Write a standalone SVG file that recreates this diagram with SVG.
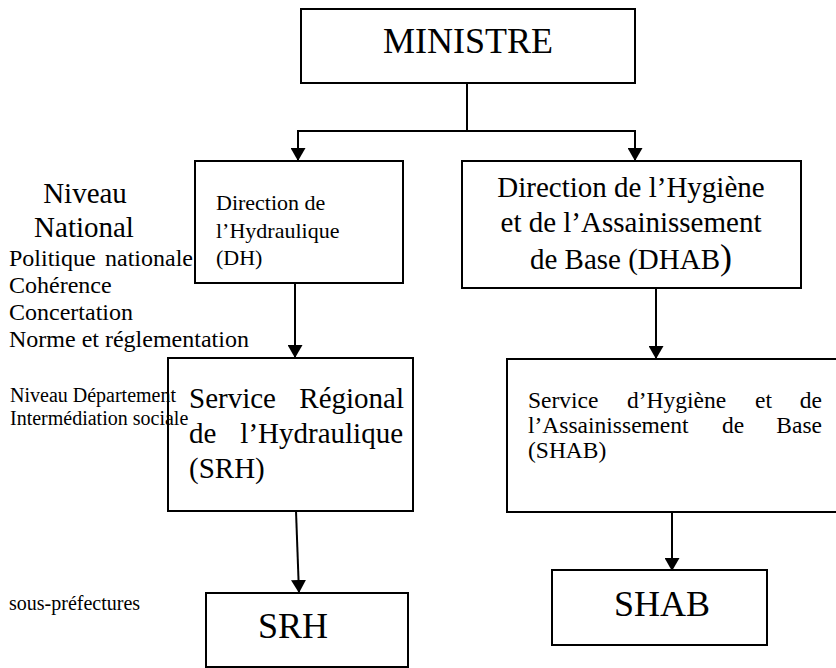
<svg xmlns="http://www.w3.org/2000/svg" width="836" height="668" viewBox="0 0 836 668">
<style>
text{font-family:"Liberation Serif","Times New Roman",serif;fill:#000}
.box{fill:#fff;stroke:#000;stroke-width:2}
.con{fill:none;stroke:#000;stroke-width:2}
</style>
<defs>
<marker id="arr" markerUnits="userSpaceOnUse" viewBox="0 0 13 15" refX="13" refY="7.5" markerWidth="13" markerHeight="15" orient="auto">
<path d="M0,0 L13,7.5 L0,15 z" fill="#000"/>
</marker>
</defs>
<rect width="836" height="668" fill="#fff"/>
<g id="connectors">
<path class="con" d="M467,83 V131"/>
<path class="con" d="M297,131 H636"/>
<path class="con" d="M298,131 V161" marker-end="url(#arr)"/>
<path class="con" d="M635,131 V161" marker-end="url(#arr)"/>
<path class="con" d="M295,283 V358" marker-end="url(#arr)"/>
<path class="con" d="M656,288 V359" marker-end="url(#arr)"/>
<path class="con" d="M296,511 L299,593" marker-end="url(#arr)"/>
<path class="con" d="M672,512 V571" marker-end="url(#arr)"/>
</g>
<g id="ministre">
<rect class="box" x="301" y="9" width="334" height="74"/>
<text x="468" y="53" font-size="36" text-anchor="middle">MINISTRE</text>
</g>
<g id="dh">
<rect class="box" x="195" y="161" width="208" height="122"/>
<text x="216" y="210" font-size="22">Direction de</text>
<text x="216" y="238" font-size="22">l’Hydraulique</text>
<text x="216" y="265" font-size="22">(DH)</text>
</g>
<g id="dhab">
<rect class="box" x="462" y="161" width="339" height="127"/>
<text x="631" y="197" font-size="29" text-anchor="middle">Direction de l’Hygiène</text>
<text x="631" y="232" font-size="29" text-anchor="middle">et de l’Assainissement</text>
<text x="631" y="269" font-size="29" text-anchor="middle">de Base (DHAB<tspan font-size="36">)</tspan></text>
</g>
<g id="srh-service">
<rect class="box" x="168" y="358" width="245" height="153"/>
<text x="189" y="408" font-size="29">Service</text>
<text x="404" y="408" font-size="29" text-anchor="end">Régional</text>
<text x="189" y="443" font-size="29">de</text>
<text x="403" y="443" font-size="29" text-anchor="end">l’Hydraulique</text>
<text x="189" y="478" font-size="29">(SRH)</text>
</g>
<g id="shab-service">
<rect class="box" x="507" y="359" width="335" height="153"/>
<text x="528" y="408" font-size="23.5">Service</text>
<text x="627" y="408" font-size="23.5">d’Hygiène</text>
<text x="755" y="408" font-size="23.5">et</text>
<text x="822" y="408" font-size="23.5" text-anchor="end">de</text>
<text x="528" y="433" font-size="23.5">l’Assainissement</text>
<text x="722" y="433" font-size="23.5">de</text>
<text x="822" y="433" font-size="23.5" text-anchor="end">Base</text>
<text x="528" y="458" font-size="23.5">(SHAB)</text>
</g>
<g id="srh">
<rect class="box" x="206" y="593" width="202" height="74"/>
<text x="293" y="638" font-size="36" text-anchor="middle">SRH</text>
</g>
<g id="shab">
<rect class="box" x="552" y="570" width="215" height="75"/>
<text x="662" y="616" font-size="36" text-anchor="middle">SHAB</text>
</g>
<g id="labels">
<text x="85" y="203" font-size="29" text-anchor="middle">Niveau</text>
<text x="84" y="237" font-size="29" text-anchor="middle">National</text>
<text x="9" y="266" font-size="24">Politique</text>
<text x="193" y="266" font-size="24" text-anchor="end">nationale</text>
<text x="9" y="293" font-size="24">Cohérence</text>
<text x="9" y="320" font-size="24">Concertation</text>
<text x="9" y="347" font-size="24">Norme et réglementation</text>
<text x="10" y="402" font-size="20">Niveau Département</text>
<text x="10" y="425" font-size="20">Intermédiation sociale</text>
<text x="9" y="610" font-size="20">sous-préfectures</text>
</g>
</svg>
